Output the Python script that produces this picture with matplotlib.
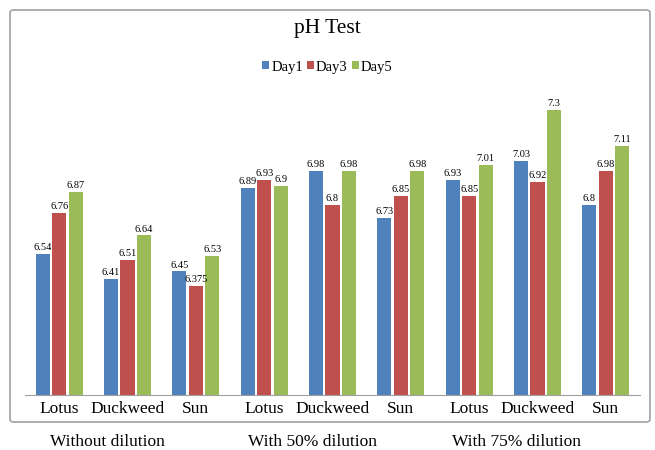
import matplotlib.pyplot as plt
import numpy as np
from matplotlib.patches import FancyBboxPatch

plt.rcParams['font.family'] = ['Liberation Serif', 'DejaVu Serif']

# 데이터
categories = ['Lotus', 'Duckweed', 'Sun'] * 3
groups = ['Without dilution', 'With 50% dilution', 'With 75% dilution']
day1 = [6.54, 6.41, 6.45, 6.89, 6.98, 6.73, 6.93, 7.03, 6.8]
day3 = [6.76, 6.51, 6.375, 6.93, 6.8, 6.85, 6.85, 6.92, 6.98]
day5 = [6.87, 6.64, 6.53, 6.9, 6.98, 6.98, 7.01, 7.3, 7.11]
series = [('Day1', day1, '#4F81BD'), ('Day3', day3, '#C0504D'), ('Day5', day5, '#9BBB59')]

fig = plt.figure(figsize=(6.55, 4.5), dpi=100)

# 차트 테두리
border = FancyBboxPatch((10 / 655, 1 - 422 / 450), 640 / 655, 412 / 450,
                        boxstyle='round,pad=0,rounding_size=0.006',
                        transform=fig.transFigure, fill=False,
                        edgecolor='#A0A0A0', linewidth=1.2)
fig.patches.append(border)

ax = fig.add_axes([25 / 655, 1 - 395 / 450, 615 / 655, 304 / 450])
x = np.arange(len(categories))
width = 0.205
step = 0.24

for i, (name, vals, color) in enumerate(series):
    bars = ax.bar(x + (i - 1) * step, vals, width, color=color, label=name, bottom=0)
    for b, v in zip(bars, vals):
        ax.text(b.get_x() + b.get_width() / 2, v + 0.01, f'{v:g}',
                ha='center', va='bottom', fontsize=7.5)

ax.set_ylim(5.8, 7.4)
ax.set_xlim(-0.5, len(categories) - 0.5)
ax.set_yticks([])
ax.set_xticks(x)
ax.set_xticklabels(categories, fontsize=12.5)
ax.tick_params(axis='x', length=0, pad=4)
for s in ['top', 'right', 'left']:
    ax.spines[s].set_visible(False)
ax.spines['bottom'].set_color('#A0A0A0')

# 그룹 라벨
for gi, g in enumerate(groups):
    ax.text(gi * 3 + 0.7, -0.155, g, transform=ax.get_xaxis_transform(),
            ha='center', va='center', fontsize=12.5)

fig.text(0.5, 1 - 28 / 450, 'pH Test', ha='center', va='center', fontsize=15.5)
fig.legend(loc='center', bbox_to_anchor=(0.5, 1 - 67 / 450), ncol=3, frameon=False,
           fontsize=10.5, handlelength=0.45, handleheight=0.45, handletextpad=0.15,
           columnspacing=0.3)

plt.savefig('out.png', dpi=100)
plt.close()
